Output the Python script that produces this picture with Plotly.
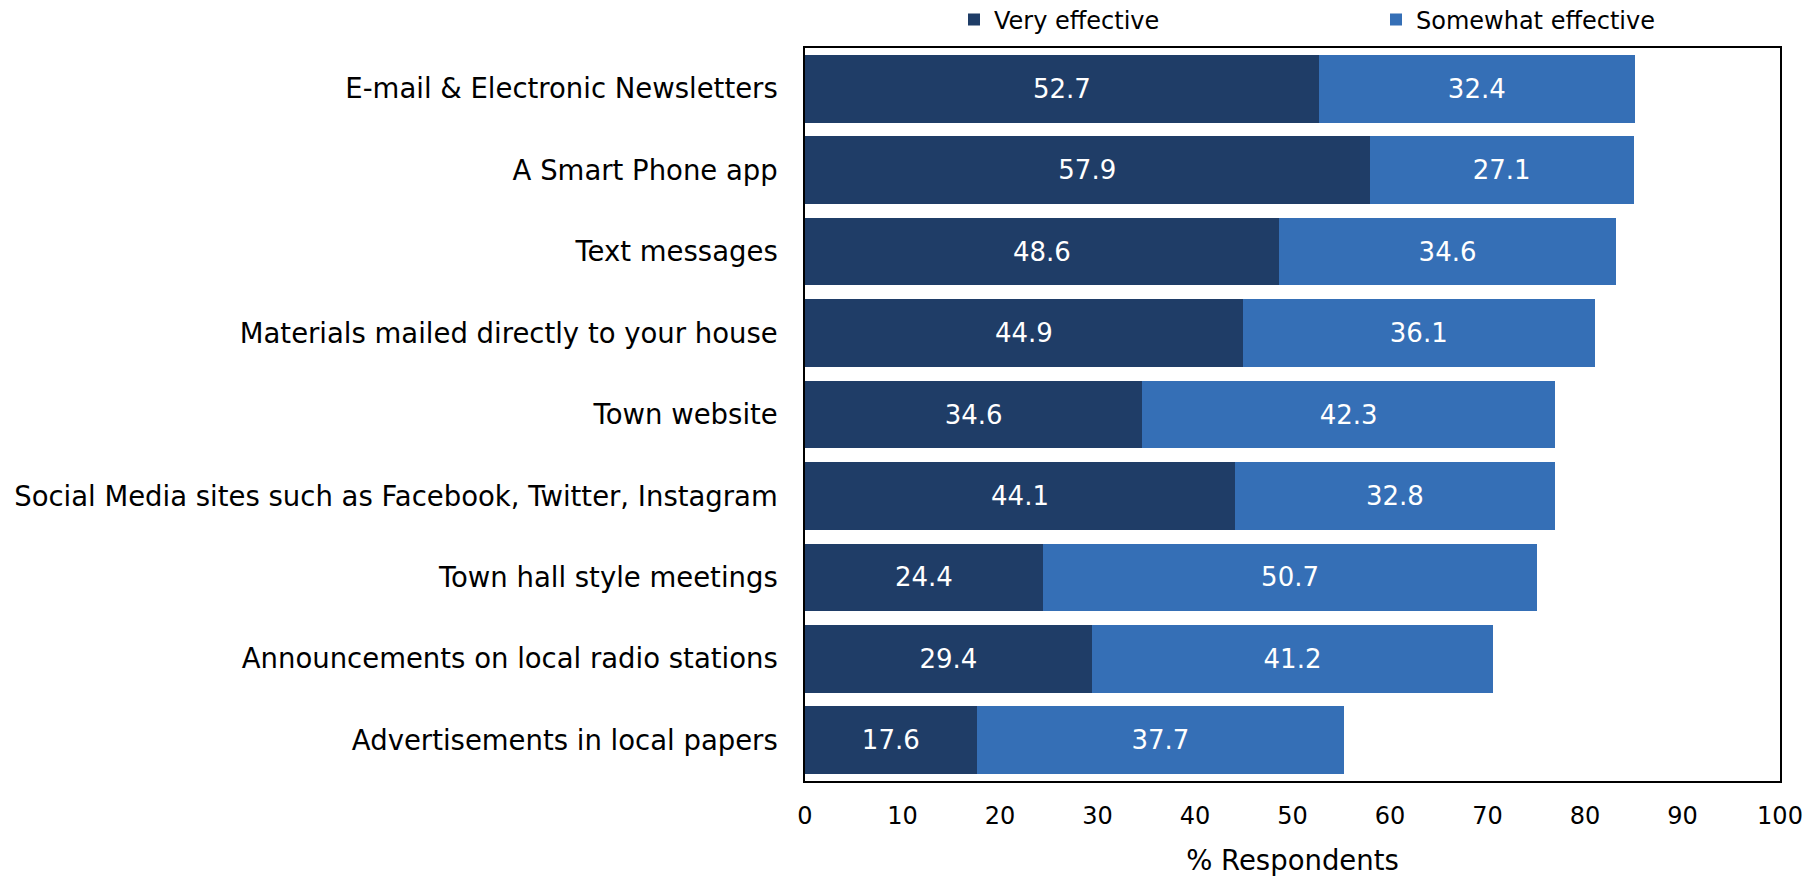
import plotly.graph_objects as go

categories = [
    "E-mail & Electronic Newsletters",
    "A Smart Phone app",
    "Text messages",
    "Materials mailed directly to your house",
    "Town website",
    "Social Media sites such as Facebook, Twitter, Instagram",
    "Town hall style meetings",
    "Announcements on local radio stations",
    "Advertisements in local papers",
]
very_effective = [52.7, 57.9, 48.6, 44.9, 34.6, 44.1, 24.4, 29.4, 17.6]
somewhat_effective = [32.4, 27.1, 34.6, 36.1, 42.3, 32.8, 50.7, 41.2, 37.7]
x_ticks = [0, 10, 20, 30, 40, 50, 60, 70, 80, 90, 100]

FONT = "DejaVu Sans"
DARK = "#1f3d67"
LIGHT = "#356fb6"

fig = go.Figure()
fig.add_trace(go.Bar(
    y=categories, x=very_effective, orientation="h", name="Very effective",
    marker=dict(color=DARK, line=dict(width=0)),
    text=[f"{v:.1f}" for v in very_effective], textposition="inside",
    insidetextanchor="middle", textfont=dict(color="white", size=26, family=FONT),
))
fig.add_trace(go.Bar(
    y=categories, x=somewhat_effective, orientation="h", name="Somewhat effective",
    marker=dict(color=LIGHT, line=dict(width=0)),
    text=[f"{v:.1f}" for v in somewhat_effective], textposition="inside",
    insidetextanchor="middle", textfont=dict(color="white", size=26, family=FONT),
))

fig.update_layout(
    barmode="stack",
    bargap=0.17,
    width=1817, height=878,
    margin=dict(l=805, r=37, t=48, b=97, autoexpand=False),
    paper_bgcolor="white", plot_bgcolor="white",
    font=dict(family=FONT, size=26, color="black"),
    uniformtext=dict(minsize=10, mode="show"),
    legend=dict(
        orientation="h", xref="container", yref="container",
        x=954 / 1817, xanchor="left", y=1 - 20 / 878, yanchor="middle",
        entrywidth=377, entrywidthmode="pixels",
        font=dict(size=24, family=FONT),
        traceorder="normal", bgcolor="rgba(0,0,0,0)",
    ),
    showlegend=True,
)
fig.update_xaxes(
    range=[0, 100], tickvals=x_ticks, ticktext=[str(t) for t in x_ticks],
    showgrid=False, zeroline=False, showline=True, linecolor="black", linewidth=2,
    mirror=True, ticks="", tickfont=dict(size=24), ticklabelstandoff=12,
    title=dict(text="% Respondents", font=dict(size=27.5), standoff=22),
)
fig.update_yaxes(
    autorange="reversed", showgrid=False, zeroline=False, showline=True,
    linecolor="black", linewidth=1.5, mirror=True, ticks="",
    tickfont=dict(size=27.5), ticklabelstandoff=20,
)

fig.write_html("out.html")
